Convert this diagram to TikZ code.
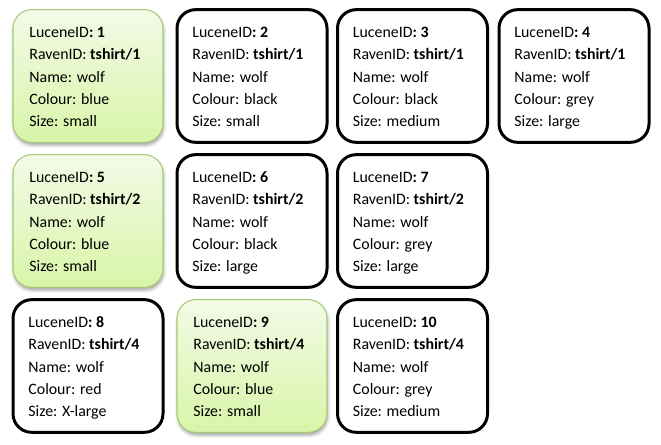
\documentclass[tikz,border=0pt]{standalone}
\usepackage{fontspec}
\setmainfont{Carlito}
\usetikzlibrary{shadows.blur}
\definecolor{gtop}{HTML}{F3FAE7}
\definecolor{gbot}{HTML}{D8F5A8}
\definecolor{gedge}{HTML}{A6C977}
% one record of the index: LuceneID, RavenID number, colour, size
\newcommand\tshirtrec[4]{\strut LuceneID\textbf{: #1}\\
  \strut RavenID: \textbf{tshirt/#2}\\
  \strut Name: wolf\\
  \strut Colour: #3\\
  \strut Size: #4}
\tikzset{
  recbox/.style={rectangle, rounded corners=14pt, minimum width=112.5pt,
    minimum height=99.5pt, inner sep=0pt},
  plainbox/.style={recbox, draw=black, line width=2.25pt, fill=white},
  hitbox/.style={recbox, draw=gedge, line width=0.8pt, top color=gtop,
    bottom color=gbot,
    blur shadow={shadow xshift=0.6pt, shadow yshift=-2.2pt,
      shadow blur radius=2.2pt, shadow opacity=35}},
  rectext/.style={anchor=west, inner sep=0pt, align=left,
    font=\fontsize{11.9}{16.6}\selectfont},
}
\begin{document}
\begin{tikzpicture}[x=0.75pt, y=-0.75pt]
\useasboundingbox (0,0) rectangle (661,445);
% row 1
\node[hitbox]   (b1)  at (88,76)    {};
\node[plainbox] (b2)  at (252,76)   {};
\node[plainbox] (b3)  at (412.5,76) {};
\node[plainbox] (b4)  at (574,76)   {};
% row 2
\node[hitbox]   (b5)  at (88,221)    {};
\node[plainbox] (b6)  at (252,221)   {};
\node[plainbox] (b7)  at (412.5,221) {};
% row 3
\node[plainbox] (b8)  at (88,366)    {};
\node[hitbox]   (b9)  at (252,366)   {};
\node[plainbox] (b10) at (412.5,366) {};
% record texts
\tikzset{recshift/.style={xshift=12.5pt, yshift=-1.2pt}}
\node[rectext] (t1)  at ([recshift]b1.west)  {\tshirtrec{1}{1}{blue}{small}};
\node[rectext] (t2)  at ([recshift]b2.west)  {\tshirtrec{2}{1}{black}{small}};
\node[rectext] (t3)  at ([recshift]b3.west)  {\tshirtrec{3}{1}{black}{medium}};
\node[rectext] (t4)  at ([recshift]b4.west)  {\tshirtrec{4}{1}{grey}{large}};
\node[rectext] (t5)  at ([recshift]b5.west)  {\tshirtrec{5}{2}{blue}{small}};
\node[rectext] (t6)  at ([recshift]b6.west)  {\tshirtrec{6}{2}{black}{large}};
\node[rectext] (t7)  at ([recshift]b7.west)  {\tshirtrec{7}{2}{grey}{large}};
\node[rectext] (t8)  at ([recshift]b8.west)  {\tshirtrec{8}{4}{red}{X-large}};
\node[rectext] (t9)  at ([recshift]b9.west)  {\tshirtrec{9}{4}{blue}{small}};
\node[rectext] (t10) at ([recshift]b10.west) {\tshirtrec{10}{4}{grey}{medium}};
\end{tikzpicture}
\end{document}
